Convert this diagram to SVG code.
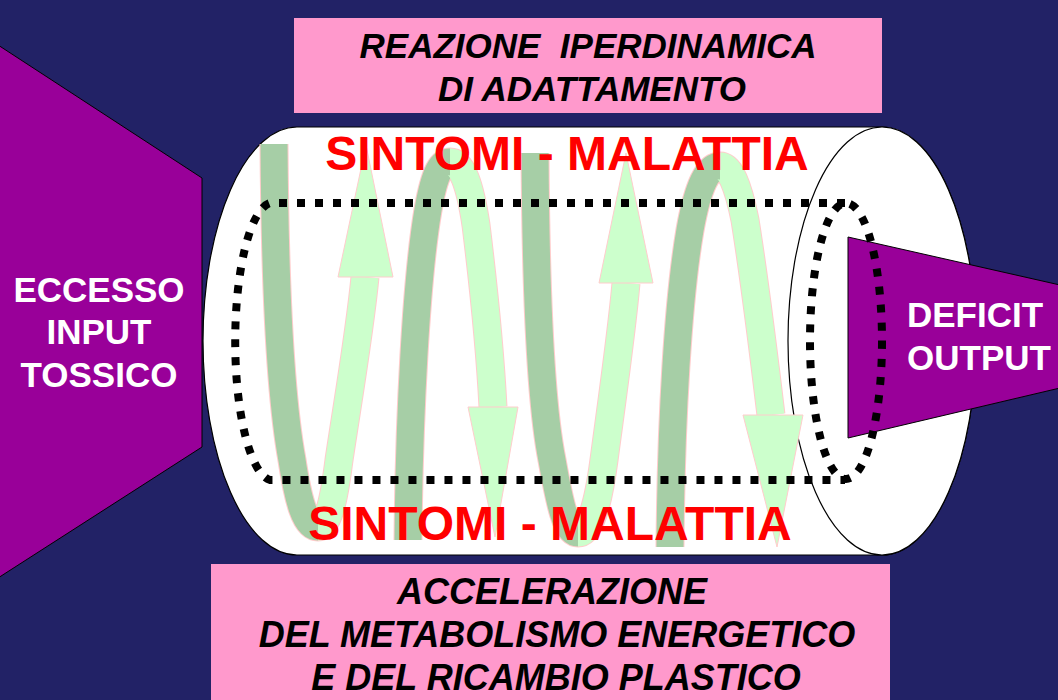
<svg xmlns="http://www.w3.org/2000/svg" width="1058" height="700" viewBox="0 0 1058 700">
<defs>
<style>
.purple{fill:#990099;stroke:#000;stroke-width:1}
.box{fill:#ff99cc}
.boxtxt{font-family:"Liberation Sans",Arial,sans-serif;font-weight:bold;font-style:italic;font-size:35px;fill:#000;text-anchor:middle}
.big{font-size:36px}
.wtxt{font-family:"Liberation Sans",Arial,sans-serif;font-weight:bold;font-size:35px;fill:#fff}
.red{font-family:"Liberation Sans",Arial,sans-serif;font-weight:bold;font-size:48px;fill:#ff0000;text-anchor:middle}
.edge{fill:none;stroke:#ffcccc;stroke-width:29}
.dark{fill:none;stroke:#a6cea6;stroke-width:27}
.light{fill:none;stroke:#ccffcc;stroke-width:27}
.head{fill:#ccffcc;stroke:#ffcccc;stroke-width:1}
.dots{fill:none;stroke:#000;stroke-width:8;stroke-dasharray:8 10}
</style>
</defs>
<rect x="0" y="0" width="1058" height="700" fill="#222266"/>

<g id="input">
<polygon class="purple" points="-2,45 202,178 202,447 -2,578"/>
<text class="wtxt" x="99" y="302" text-anchor="middle">ECCESSO</text>
<text class="wtxt" x="99" y="344" text-anchor="middle">INPUT</text>
<text class="wtxt" x="99" y="387" text-anchor="middle">TOSSICO</text>
</g>

<g id="cylinder">
<path d="M297,127 L882,127 A94,214 0 0 1 882,555 L297,555 A94,214 0 0 1 297,127 Z" fill="#fff" stroke="#000" stroke-width="1.2"/>
<ellipse cx="882" cy="341" rx="94" ry="214" fill="#fff" stroke="#000" stroke-width="1.2"/>
</g>

<g id="spiral">
<path class="edge" d="M274,144 C275,300 281,400 292,460 C298,500 305,527 318,527 C328,527 334,500 339,460 C348,400 360,330 365,277"/>
<path class="dark" d="M274,144 C275,300 281,400 292,460 C298,500 305,527 318,527"/>
<path class="light" d="M318,527 C328,527 334,500 339,460 C348,400 360,330 365,277"/>
<polygon class="head" points="338,277 393,277 366,145"/>

<path class="edge" d="M408,540 C409,420 416,280 428,210 C435,170 442,162 450,162 C462,162 470,185 476,225 C484,290 490,350 493,407"/>
<path class="dark" d="M408,540 C409,420 416,280 428,210 C435,170 442,162 450,162"/>
<path class="light" d="M450,162 C462,162 470,185 476,225 C484,290 490,350 493,407"/>
<polygon class="head" points="468,407 518,407 495,537"/>

<path class="edge" d="M535,153 C536,320 542,410 552,460 C560,505 566,533 578,533 C590,533 598,505 604,460 C612,400 622,330 626,283"/>
<path class="dark" d="M535,153 C536,320 542,410 552,460 C560,505 566,533 578,533"/>
<path class="light" d="M578,533 C590,533 598,505 604,460 C612,400 622,330 626,283"/>
<polygon class="head" points="599,283 653,283 626,153"/>

<path class="edge" d="M670,547 C671,420 678,300 690,230 C698,185 708,166 720,166 C730,166 738,185 745,220 C753,270 762,340 771,415"/>
<path class="dark" d="M670,547 C671,420 678,300 690,230 C698,185 708,166 720,166"/>
<path class="light" d="M720,166 C730,166 738,185 745,220 C753,270 762,340 771,415"/>
<polygon class="head" points="743,415 803,415 777,547"/>
</g>

<g id="output">
<polygon class="purple" points="848,237 1060,285 1060,388 848,438"/>
<text class="wtxt" x="907" y="327">DEFICIT</text>
<text class="wtxt" x="907" y="370">OUTPUT</text>
</g>

<g id="loop">
<path class="dots" d="M845,203 L270,203 A38,139 0 0 0 270,480 L845,480"/>
<ellipse class="dots" cx="846" cy="341" rx="36" ry="138"/>
</g>

<g id="symptoms">
<text class="red" x="567" y="170">SINTOMI - MALATTIA</text>
<text class="red" x="550" y="540">SINTOMI - MALATTIA</text>
</g>

<g id="top-box">
<rect class="box" x="294" y="18" width="588" height="95"/>
<text class="boxtxt" x="588" y="58" xml:space="preserve">REAZIONE  IPERDINAMICA</text>
<text class="boxtxt" x="592" y="101">DI ADATTAMENTO</text>
</g>

<g id="bottom-box">
<rect class="box" x="211" y="564" width="679" height="140"/>
<text class="boxtxt big" x="552" y="604">ACCELERAZIONE</text>
<text class="boxtxt big" x="557" y="647">DEL METABOLISMO ENERGETICO</text>
<text class="boxtxt big" x="556" y="690">E DEL RICAMBIO PLASTICO</text>
</g>
</svg>
